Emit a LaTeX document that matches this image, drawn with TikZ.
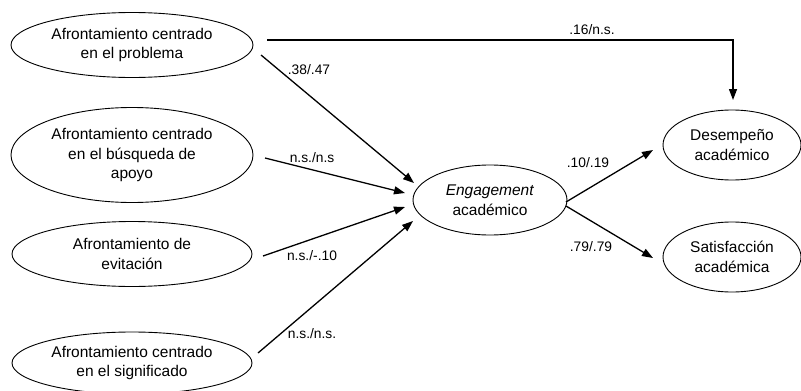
\documentclass[tikz,border=0pt]{standalone}
\usepackage{fontspec}
\setmainfont{Liberation Sans}
\usetikzlibrary{shapes.geometric,arrows.meta}
\tikzset{
  var/.style={draw, ellipse, line width=0.9pt, inner sep=0pt, align=center,
    font=\fontsize{15.5}{19.5}\selectfont},
  path/.style={line width=1.3pt, -{Triangle[length=11pt,width=8pt]}},
  coef/.style={font=\fontsize{13.8}{16}\selectfont, inner sep=0pt}
}
\begin{document}
\begin{tikzpicture}[x=1pt,y=-1pt]
\useasboundingbox (0,0) rectangle (801,391);
% variables
\node[var, minimum width=242, minimum height=65] (e1) at (132,45) {Afrontamiento centrado\\en el problema};
\node[var, minimum width=242, minimum height=95] (e2) at (132,155) {Afrontamiento centrado\\en el búsqueda de\\apoyo};
\node[var, minimum width=240, minimum height=65] (e3) at (132,254) {Afrontamiento de\\evitación};
\node[var, minimum width=240, minimum height=62] (e4) at (132,363) {Afrontamiento centrado\\en el significado};
\node[var, minimum width=154, minimum height=70] (eng) at (490,200) {\textit{Engagement}\\académico};
\node[var, minimum width=138, minimum height=70] (des) at (732,145) {Desempeño\\académico};
\node[var, minimum width=138, minimum height=70] (sat) at (732,257) {Satisfacción\\académica};
% connector ends
\coordinate (s1) at (261,55);  \coordinate (t1) at (414,183);
\coordinate (s2) at (265,158); \coordinate (t2) at (405,193);
\coordinate (s3) at (263,256); \coordinate (t3) at (405,207);
\coordinate (s4) at (258,353); \coordinate (t4) at (413,221);
\coordinate (s0) at (267,40);  \coordinate (k0) at (733,40); \coordinate (t0) at (733,100);
\coordinate (s5) at (566,202); \coordinate (t5) at (653,150);
\coordinate (s6) at (566,206); \coordinate (t6) at (653,258);
% connectors
\draw[path] (s0) -- (k0) -- (t0);
\draw[path] (s1) -- (t1);
\draw[path] (s2) -- (t2);
\draw[path] (s3) -- (t3);
\draw[path] (s4) -- (t4);
\draw[path] (s5) -- (t5);
\draw[path] (s6) -- (t6);
% coefficients
\node[coef] (c0) at (592,30) {.16/n.s.};
\node[coef] (c1) at (309,70) {.38/.47};
\node[coef] (c2) at (312,158) {n.s./n.s};
\node[coef] (c3) at (312,256) {n.s./-.10};
\node[coef] (c4) at (312,334) {n.s./n.s.};
\node[coef] (c5) at (588,163) {.10/.19};
\node[coef] (c6) at (591,247) {.79/.79};
\end{tikzpicture}
\end{document}
